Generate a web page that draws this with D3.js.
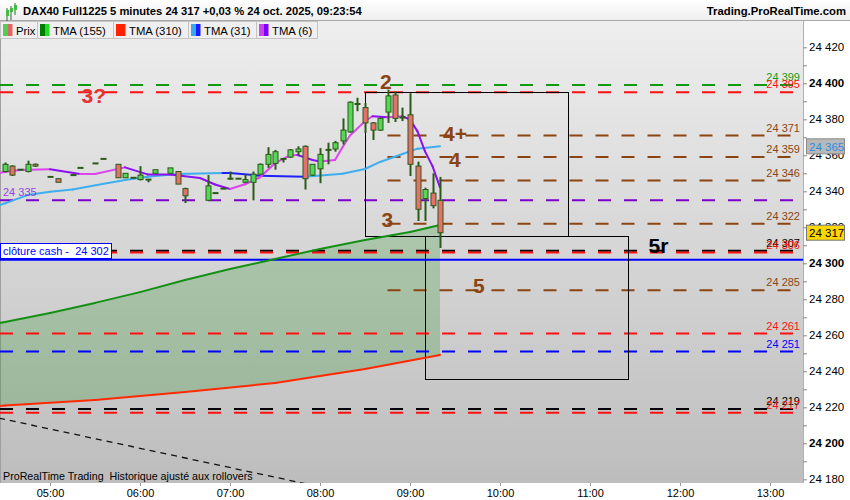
<!DOCTYPE html>
<html><head><meta charset="utf-8">
<script src="https://cdn.jsdelivr.net/npm/d3@7"></script>
<style>
body{margin:0;background:#fff;}
svg{display:block;font-family:"Liberation Sans",Arial,sans-serif;}
</style>
</head><body>
<svg id="c" width="850" height="500"></svg>
<script>
// ---------- DATA ----------
const barTimes = ["04:30","04:35","04:40","04:45","04:50","05:00","05:05","05:15","05:20","05:30","05:35","05:45","05:50","05:55","06:00","06:05","06:10","06:20","06:25","06:30","06:45","06:50","06:55","07:00","07:05","07:10","07:15","07:20","07:25","07:30","07:35","07:40","07:45","07:50","07:55","08:00","08:05","08:10","08:15","08:20","08:25","08:30","08:35","08:40","08:45","08:50","08:55","09:00","09:05","09:10","09:15","09:20"];
const opens  = [24351,24354,24352,24351,24355,24348,24347,24349,24353,24355.5,24358,24355,24347.5,24347.5,24346.5,24346.5,24350,24350,24351,24341.5,24335,24339,24341.5,24347,24347,24345,24345,24349.5,24355,24355.5,24358,24359,24362,24365,24349,24352.5,24363,24363.5,24368,24373,24388.5,24386.5,24378,24374,24384,24393.5,24381,24382.5,24354,24336,24339,24335];
const highs  = [24356,24354.5,24352,24357,24355.5,24348,24347,24349,24353,24355.5,24358,24355,24350,24347.5,24354,24346.5,24352,24353,24351,24342,24349,24339,24341.5,24351,24347,24349.5,24351,24355.5,24364.5,24363,24358.5,24363.5,24365,24365.5,24355,24364,24367,24368,24380.5,24390,24392,24389,24378.5,24381,24396.5,24395.5,24386.5,24394.5,24356.5,24342,24350,24348];
const lows   = [24350.5,24348.5,24352,24350.5,24353.5,24348,24345,24349,24353,24355.5,24358,24347.5,24347.5,24347.5,24346,24345,24350,24350,24344,24333.5,24335,24339,24341.5,24346.5,24347,24344.5,24335,24349.5,24353,24352,24356,24358.5,24360,24341,24348.5,24344.5,24355,24362,24366,24372.5,24384.5,24372.5,24368.5,24373.5,24378,24378.5,24379,24348.5,24323.5,24323.5,24330.5,24308.5];
const closes = [24355,24349,24352,24355,24354,24348,24345,24349,24353,24355.5,24358,24347.5,24350,24347.5,24349,24346.5,24352,24353,24344,24337.5,24343,24339,24341.5,24347,24347,24346.5,24349.5,24355,24360.5,24362,24358,24363,24363.5,24347,24355,24360.5,24363,24367,24374,24389.5,24388.5,24378,24374,24380.5,24393,24380.5,24381,24355,24330,24341,24332,24317];

const tma6Times  = ["04:26","04:30","04:40","05:00","05:20","05:30","05:50","06:05","06:20","06:40","06:50","07:00","07:10","07:20","07:30","07:40","07:45","07:55","08:00","08:10","08:15","08:20","08:30","08:35","08:45","08:55","09:00","09:05","09:10","09:15","09:20"];
const tma6Values = [24350.2,24350.7,24351.8,24352.2,24349.6,24349.6,24353.3,24349.4,24349.3,24347.4,24343.8,24341.3,24343.9,24347.8,24355.6,24360,24360.2,24357.4,24356.6,24357.4,24364.5,24371,24379,24381.7,24381.1,24381.7,24379.8,24373.3,24362.2,24354,24342.2];

const tma31Times  = ["04:26","04:30","04:45","05:00","05:15","05:35","05:50","06:05","06:25","06:55","07:00","07:20","07:50","08:15","08:30","08:40","08:55","09:05","09:20"];
const tma31Values = [24332.3,24333.3,24337.9,24339.8,24341,24344.1,24346.3,24348.1,24349.6,24350.2,24350.1,24348.7,24348.1,24349.7,24352.4,24356.3,24360.7,24363.7,24365];

const tma155Times  = ["04:26","04:30","05:00","05:30","06:00","06:30","07:00","07:30","08:00","08:30","09:00","09:20"];
const tma155Values = [24266.8,24267.4,24272.4,24278,24284,24290.7,24296.8,24302.4,24308,24313,24317.4,24321.3];

const tma310Times  = ["04:26","04:30","05:30","06:30","07:30","08:30","09:20"];
const tma310Values = [24220.7,24221,24224.1,24228.5,24233.5,24241.3,24249.1];

// horizontal levels: value, colour, start time ("" = full width), right label shown
const levelValues = [24399,24395,24371,24359,24346,24335,24322,24307,24306,24285,24261,24251,24219,24217];
const levelColors = ["#139a13","#ff1010","#8b4513","#8b4513","#8b4513","#7a00cc","#8b4513","#000000","#ff1010","#8b4513","#ff1010","#0000ff","#000000","#ff1010"];
const levelStarts = ["","","08:45","08:45","08:45","","08:45","","","08:45","","","",""];
const levelRightLabel = [true,true,true,true,true,false,true,true,true,true,true,true,true,true];
const cashClose = 24302;

const boxTimes  = [["08:30","10:45"],["09:10","11:25"]];
const boxValues = [[24395,24315],[24315,24235.5]];

const trendTimes  = ["04:26","07:50"];
const trendValues = [24214,24177.6];

const annoTexts  = ["2","3?","4+","4","3","5","5r"];
const annoTimes  = ["08:40","05:21","09:22","09:26","08:41","09:42","11:39"];
const annoValues = [24397,24389,24368,24353.5,24320.2,24283.5,24305.7];
const annoColors = ["#8b4513","#e83030","#8b4513","#8b4513","#8b4513","#8b4513","#000000"];

const yTickValues = d3.range(24180, 24421, 10);
const xTickLabels = ["05:00","06:00","07:00","08:00","09:00","10:00","11:00","12:00","13:00"];

const titleText = "DAX40 Full1225 5 minutes 24 317 +0,03 % 24 oct. 2025, 09:23:54";
const siteText = "Trading.ProRealTime.com";
const legendNames = ["Prix","TMA (155)","TMA (310)","TMA (31)","TMA (6)"];
const legendColors = [["#55cc55","#e06666"],["#007a00","#22dd22"],["#ff2200","#ff2200"],["#33aaee","#1a1aff"],["#cc44ee","#8000ff"]];

// ---------- SETUP ----------
const T = s => { const [h,m] = s.split(":").map(Number); return new Date(2025,9,24,h,m); };
const svg = d3.select("#c");
const PL = 0, PR = 803, PT = 21, PB = 483;
const FS = 11;
const x = d3.scaleTime().domain([T("05:00"), T("13:00")]).range([50, 770]);
const y = d3.scaleLinear().domain([24300, 24400]).range([263.3, 83.3]);
const fmt = v => d3.format(",")(v).replace(",", " ");

const defs = svg.append("defs");
const g1 = defs.append("linearGradient").attr("id","bg").attr("x1",0).attr("y1",0).attr("x2",0).attr("y2",1);
g1.append("stop").attr("offset","0%").attr("stop-color","#eeeeee");
g1.append("stop").attr("offset","100%").attr("stop-color","#bdbdbd");
const g2 = defs.append("linearGradient").attr("id","hd").attr("x1",0).attr("y1",0).attr("x2",0).attr("y2",1);
g2.append("stop").attr("offset","0%").attr("stop-color","#ffffff");
g2.append("stop").attr("offset","100%").attr("stop-color","#eeeeee");
defs.append("clipPath").attr("id","clip").append("rect").attr("x",PL).attr("y",PT).attr("width",PR-PL).attr("height",PB-PT);

// background
svg.append("rect").attr("x",0).attr("y",0).attr("width",850).attr("height",500).attr("fill","#fff");
svg.append("rect").attr("x",PL).attr("y",PT).attr("width",PR-PL).attr("height",PB-PT).attr("fill","url(#bg)");
svg.append("line").attr("x1",0.5).attr("x2",0.5).attr("y1",PT).attr("y2",PB).attr("stroke","#a0a0a0");
svg.append("line").attr("x1",PR+0.5).attr("x2",PR+0.5).attr("y1",PT).attr("y2",PB).attr("stroke","#b0b0b0");

const plot = svg.append("g").attr("clip-path","url(#clip)");

// fill between TMA155 and TMA310
const t155 = tma155Times.map((t,i)=>({t:T(t),v:tma155Values[i]}));
const t310 = tma310Times.map((t,i)=>({t:T(t),v:tma310Values[i]}));
const interp = (arr, t) => {
  for (let i=0;i<arr.length-1;i++){ if (t>=arr[i].t && t<=arr[i+1].t){ const f=(t-arr[i].t)/(arr[i+1].t-arr[i].t); return arr[i].v+f*(arr[i+1].v-arr[i].v);} }
  return t<arr[0].t ? arr[0].v : arr[arr.length-1].v;
};
const fillTimes = Array.from(new Set([...tma155Times,...tma310Times])).map(T).sort((a,b)=>a-b);
plot.append("path")
  .datum(fillTimes)
  .attr("d", d3.area().x(d=>x(d)).y0(d=>y(interp(t310,d))).y1(d=>y(interp(t155,d))))
  .attr("fill","rgba(0,128,0,0.2)");

// levels
levelValues.forEach((v,i)=>{
  const xs = levelStarts[i] ? x(T(levelStarts[i])) : 0;
  plot.append("line").attr("x1",xs).attr("x2",PR).attr("y1",y(v)).attr("y2",y(v))
    .attr("stroke",levelColors[i]).attr("stroke-width",2).attr("stroke-dasharray","13,13");
  if (levelRightLabel[i]) {
    svg.append("text").attr("x",800).attr("y",y(v)-4).attr("text-anchor","end")
      .attr("font-size",FS).attr("fill",levelColors[i]).text(fmt(v));
  }
});
svg.append("text").attr("x",3).attr("y",y(24335)-4).attr("font-size",FS).attr("fill","#8a2be2").attr("opacity",0.85).text(fmt(24335));

// cash close
plot.append("line").attr("x1",0).attr("x2",PR).attr("y1",y(cashClose)).attr("y2",y(cashClose)).attr("stroke","#0000ff").attr("stroke-width",2);

// boxes
boxTimes.forEach((bt,i)=>{
  const x0=x(T(bt[0])), x1=x(T(bt[1])), y0=y(boxValues[i][0]), y1=y(boxValues[i][1]);
  plot.append("rect").attr("x",Math.round(x0)+0.5).attr("y",Math.round(y0)+0.5).attr("width",Math.round(x1-x0)).attr("height",Math.round(y1-y0))
    .attr("fill","none").attr("stroke","#000").attr("stroke-width",1);
});

// trend line
const tr = trendTimes.map((t,i)=>({t:T(t),v:trendValues[i]}));
plot.append("line").attr("x1",x(tr[0].t)).attr("y1",y(tr[0].v)).attr("x2",x(tr[1].t)).attr("y2",y(tr[1].v))
  .attr("stroke","#111").attr("stroke-width",1.3).attr("stroke-dasharray","6,5");

// MA lines coloured by slope
function slopeLine(times, values, upColor, downColor, width){
  const pts = times.map((t,i)=>({t:T(t),v:values[i]}));
  for (let i=0;i<pts.length-1;i++){
    const c = pts[i+1].v >= pts[i].v ? upColor : downColor;
    plot.append("line").attr("x1",x(pts[i].t)).attr("y1",y(pts[i].v)).attr("x2",x(pts[i+1].t)).attr("y2",y(pts[i+1].v))
      .attr("stroke",c).attr("stroke-width",width).attr("stroke-linecap","round");
  }
}
slopeLine(tma310Times, tma310Values, "#ff2a00", "#ff2a00", 2);
slopeLine(tma155Times, tma155Values, "#159015", "#22dd22", 2);
slopeLine(tma31Times, tma31Values, "#3eaeee", "#2020ff", 2);
slopeLine(tma6Times, tma6Values, "#dd44ee", "#8a10f0", 2);

// candles
const bars = barTimes.map((t,i)=>({t:T(t),o:opens[i],h:highs[i],l:lows[i],c:closes[i]}));
const cg = plot.append("g");
bars.forEach(b=>{
  const cx = Math.round(x(b.t));
  if (b.h > b.l) cg.append("line").attr("x1",cx+0.5).attr("x2",cx+0.5).attr("y1",y(b.h)).attr("y2",y(b.l)).attr("stroke","#2a5a18").attr("stroke-width",2);
  if (Math.abs(b.o-b.c) < 0.6) {
    cg.append("line").attr("x1",cx-2.5).attr("x2",cx+3.5).attr("y1",y(b.c)).attr("y2",y(b.c)).attr("stroke","#2a5a18").attr("stroke-width",2);
  } else {
    const top = y(Math.max(b.o,b.c)), bot = y(Math.min(b.o,b.c));
    cg.append("rect").attr("x",cx-2).attr("y",top).attr("width",5).attr("height",bot-top)
      .attr("fill", b.c>b.o ? "#55d655" : "#e8706a").attr("stroke","#2a5a18").attr("stroke-width",1);
  }
});

// annotations
annoTexts.forEach((s,i)=>{
  svg.append("text").attr("x",x(T(annoTimes[i]))).attr("y",y(annoValues[i]))
    .attr("font-size",21).attr("font-weight","bold").attr("fill",annoColors[i]).text(s);
});

// cash label
const cl = svg.append("g");
cl.append("rect").attr("x",0.5).attr("y",243.5).attr("width",111).attr("height",15).attr("fill","#fff").attr("stroke","#0000ff");
cl.append("text").attr("x",3).attr("y",255).attr("font-size",FS).attr("fill","#0000ff").style("white-space","pre").text("clôture cash -  " + fmt(cashClose));

// right axis
const ya = svg.append("g").attr("transform",`translate(${PR},0)`)
  .call(d3.axisRight(y).tickValues(yTickValues).tickSize(4).tickPadding(2).tickFormat(v => v%20===0 ? fmt(v) : ""));
ya.select(".domain").remove();
ya.selectAll(".tick line").attr("stroke","#888");
ya.selectAll(".tick text").attr("font-size",FS+0.5).attr("fill","#000").attr("font-family","Liberation Sans, Arial, sans-serif")
  .attr("font-weight", d => d%100===0 ? "bold" : "normal");

// bottom axis
const xa = svg.append("g").attr("transform",`translate(0,${PB})`)
  .call(d3.axisBottom(x).tickValues(xTickLabels.map(T)).tickSize(3).tickPadding(3).tickFormat(d3.timeFormat("%H:%M")));
xa.select(".domain").remove();
xa.selectAll(".tick line").attr("stroke","#999");
xa.selectAll(".tick text").attr("font-size",FS).attr("fill","#000").attr("font-family","Liberation Sans, Arial, sans-serif");

// badges
function badge(v, bg, fg, border){
  const g = svg.append("g");
  g.append("rect").attr("x",806.5).attr("y",y(v)-7.5).attr("width",38).attr("height",15).attr("fill",bg).attr("stroke",border);
  g.append("text").attr("x",809).attr("y",y(v)+4.5).attr("font-size",FS+0.5).attr("fill",fg).text(fmt(v));
}
badge(tma31Values[tma31Values.length-1], "#b8b8b8", "#2a8ee0", "#8a8a8a");
badge(closes[closes.length-1], "#ffd700", "#000", "#777");

// bottom-left note
svg.append("text").attr("x",3).attr("y",480).attr("font-size",10.7).attr("fill","#000").style("white-space","pre").text("ProRealTime Trading  Historique ajusté aux rollovers");

// header
svg.append("rect").attr("x",0).attr("y",0).attr("width",850).attr("height",20).attr("fill","url(#hd)");
svg.append("line").attr("x1",0).attr("x2",850).attr("y1",20.5).attr("y2",20.5).attr("stroke","#a8a8a8");
[[6,8,13,6],[10,6,11,4],[14,3,9,5]].forEach(r=>{
  svg.append("line").attr("x1",r[0]+1).attr("x2",r[0]+1).attr("y1",r[1]).attr("y2",r[1]+r[2]+3).attr("stroke","#2a6a2a");
  svg.append("rect").attr("x",r[0]).attr("y",r[1]+2).attr("width",3).attr("height",r[3]).attr("fill","#44bb44");
});
svg.append("text").attr("x",23).attr("y",15).attr("font-size",11.2).attr("font-weight","bold").attr("fill","#000").text(titleText);
svg.append("text").attr("x",846).attr("y",15).attr("text-anchor","end").attr("font-size",11.3).attr("font-weight","bold").attr("fill","#000").text(siteText);

// legend
const legX = [0,37,113,188,256,317];
legendNames.forEach((n,i)=>{
  const x0 = legX[i], w = legX[i+1]-legX[i];
  svg.append("rect").attr("x",x0+0.5).attr("y",21.5).attr("width",w).attr("height",17).attr("fill","#efefef").attr("stroke","#c4c4c4");
  svg.append("rect").attr("x",x0+3).attr("y",24).attr("width",5).attr("height",12).attr("fill",legendColors[i][0]);
  svg.append("rect").attr("x",x0+8).attr("y",24).attr("width",4.5).attr("height",12).attr("fill",legendColors[i][1]);
  svg.append("text").attr("x",x0+16).attr("y",34.5).attr("font-size",FS+0.3).attr("fill","#000").text(n);
});
</script>
</body></html>
